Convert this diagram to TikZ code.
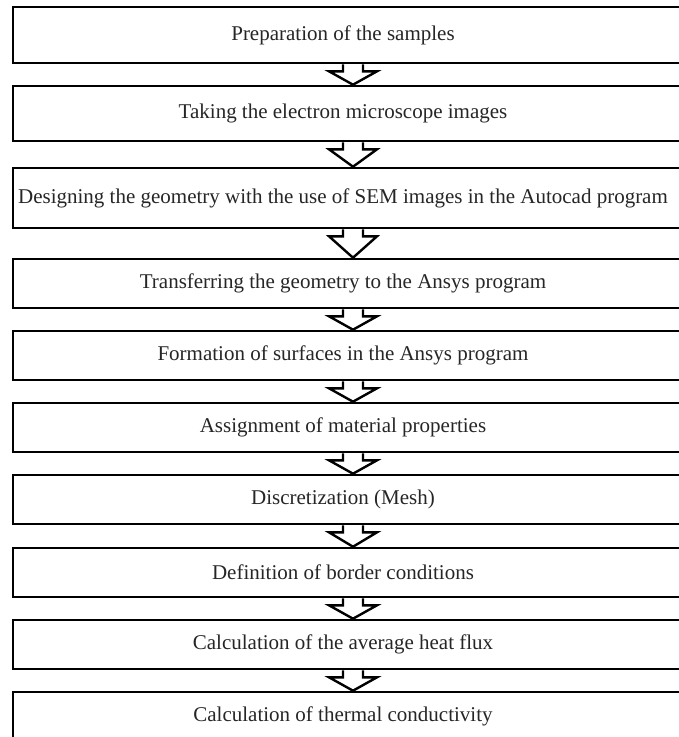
\documentclass[tikz,border=0pt]{standalone}
\usepackage{fontspec}
\setmainfont{Liberation Serif}
\usetikzlibrary{calc}
\begin{document}
\begin{tikzpicture}[x=1pt,y=-1pt,
  stepbox/.style={draw, line width=2.6pt, minimum width=680pt, inner sep=0pt},
  steptext/.style={inner sep=0pt, font=\fontsize{21}{25}\selectfont, text=black!85},
  blockarr/.style={draw, line width=2.4pt, line join=miter}]
\useasboundingbox (0,0) rectangle (679,737);
\clip (0,0) rectangle (679,737);
\fill[white] (0,0) rectangle (679,737);
\node[stepbox, minimum height=56pt] (b1) at (353,35) {};
\node[stepbox, minimum height=55pt] (b2) at (353,113.5) {};
\node[stepbox, minimum height=60pt] (b3) at (353,198) {};
\node[stepbox, minimum height=49pt] (b4) at (353,283.5) {};
\node[stepbox, minimum height=49pt] (b5) at (353,355.5) {};
\node[stepbox, minimum height=49pt] (b6) at (353,427.5) {};
\node[stepbox, minimum height=49pt] (b7) at (353,499.5) {};
\node[stepbox, minimum height=49pt] (b8) at (353,572.5) {};
\node[stepbox, minimum height=49pt] (b9) at (353,644.5) {};
\node[stepbox, minimum height=49pt] (b10) at (353,716.5) {};
\node[steptext] (t1) at (343,35) {Preparation of the samples};
\node[steptext] (t2) at (343,113.5) {Taking the electron microscope images};
\node[steptext] (t3) at (343,198) {Designing the geometry with the use of SEM images in the Autocad program};
\node[steptext] (t4) at (343,283.5) {Transferring the geometry to the Ansys program};
\node[steptext] (t5) at (343,355.5) {Formation of surfaces in the Ansys program};
\node[steptext] (t6) at (343,427.5) {Assignment of material properties};
\node[steptext] (t7) at (343,499.5) {Discretization (Mesh)};
\node[steptext] (t8) at (343,572.5) {Definition of border conditions};
\node[steptext] (t9) at (343,644.5) {Calculation of the average heat flux};
\node[steptext] (t10) at (343,716.5) {Calculation of thermal conductivity};
\foreach \i [evaluate=\i as \j using int(\i+1)] in {1,...,9} {
  \draw[blockarr] ($(b\i.south)+(-10,0)$) -- ++(0,7) -- ++(-14,0) -- (b\j.north)
    -- ($(b\i.south)+(24,7)$) -- ++(-14,0) -- ++(0,-7);
}
\end{tikzpicture}
\end{document}
